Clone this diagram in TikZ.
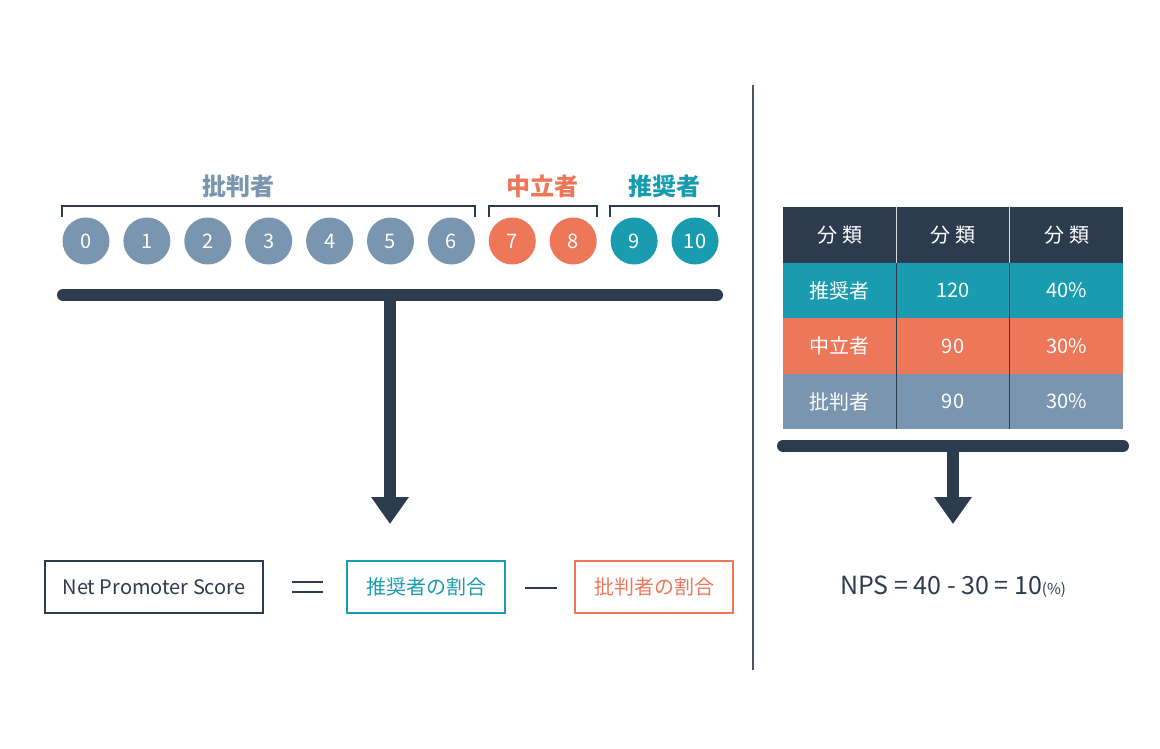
\documentclass[tikz,border=0pt]{standalone}
\usepackage{fontspec}
\setmainfont{Noto Sans CJK JP}
\usetikzlibrary{arrows.meta}
\definecolor{npsnavy}{HTML}{2D3B4E}
\definecolor{npsteal}{HTML}{1A9CB0}
\definecolor{npsorange}{HTML}{EE775A}
\definecolor{npsgray}{HTML}{7A95B0}
\definecolor{npsline}{HTML}{4A5566}
\tikzset{
  bracket/.style={npsnavy,line width=2pt},
  bar/.style={npsnavy,line width=12pt,line cap=round},
  stem/.style={npsnavy,line width=12pt,-{Triangle[width=36pt,length=27pt]}},
  cell/.style={minimum width=113.5pt,minimum height=55.5pt,inner sep=0pt,text=white,
    font=\fontsize{20}{20}\selectfont},
  termbox/.style={draw,line width=2pt,minimum height=52pt,inner sep=0pt,
    font=\fontsize{20}{20}\selectfont}
}
\begin{document}
\begin{tikzpicture}[x=1pt,y=-1pt]
  \useasboundingbox[fill=white] (0,0) rectangle (1160,749);
  % score circles
  \foreach \n/\c in {0/npsgray,1/npsgray,2/npsgray,3/npsgray,4/npsgray,5/npsgray,
      6/npsgray,7/npsorange,8/npsorange,9/npsteal,10/npsteal}
    \node[circle,fill=\c,minimum size=47pt,inner sep=0pt,text=white,
      font=\fontsize{20}{20}\selectfont] (c\n) at ({86+60.9*\n},241) {\n};
  % brackets and group labels
  \draw[bracket] (c0.west |- c0.north) -- ++(0,-11) -| (c6.east |- c6.north);
  \draw[bracket] (c7.west |- c7.north) -- ++(0,-11) -| (c8.east |- c8.north);
  \draw[bracket] (c9.west |- c9.north) -- ++(0,-11) -| (c10.east |- c10.north);
  \node[npsgray,font=\fontsize{24}{24}\selectfont\bfseries] (critics) at (238,186) {批判者};
  \node[npsorange,font=\fontsize{24}{24}\selectfont\bfseries] (passives) at (542.5,186) {中立者};
  \node[npsteal,font=\fontsize{24}{24}\selectfont\bfseries] (promoters) at (664.5,186) {推奨者};
  % left bar and arrow
  \coordinate (barLa) at (63,295);
  \coordinate (barLb) at (717,295);
  \coordinate (stemL) at (390,295);
  \coordinate (tipL) at (390,524);
  \draw[bar] (barLa) -- (barLb);
  \draw[stem] (stemL) -- (tipL);
  % formula
  \node[termbox,npsnavy,minimum width=218pt] (nps) at (154,587) {Net Promoter Score};
  \node[termbox,npsteal,minimum width=158pt] (share1) at (426,587) {推奨者の割合};
  \node[termbox,npsorange,minimum width=158pt] (share2) at (654,587) {批判者の割合};
  \draw[npsnavy,line width=2pt] (292,582) -- (323,582);
  \draw[npsnavy,line width=2pt] (292,592) -- (323,592);
  \draw[npsnavy,line width=2pt] (525,588) -- (557,588);
  % divider
  \draw[npsline,line width=2pt] (753,85) -- (753,670);
  % table
  \foreach \r/\c/\a/\b/\d in {0/npsnavy/分\hspace{5pt}類/分\hspace{5pt}類/分\hspace{5pt}類,
      1/npsteal/推奨者/120/40\%,2/npsorange/中立者/90/30\%,3/npsgray/批判者/90/30\%}{
    \node[cell,fill=\c] (t\r a) at (839.5,{235+55.5*\r}) {\a};
    \node[cell,fill=\c] (t\r b) at (953,{235+55.5*\r}) {\b};
    \node[cell,fill=\c] (t\r c) at (1066.5,{235+55.5*\r}) {\d};
  }
  \draw[white!80!npsnavy,line width=1pt] (t0a.north east) -- (t0a.south east);
  \draw[white!80!npsnavy,line width=1pt] (t0b.north east) -- (t0b.south east);
  \draw[npsnavy,line width=1pt] (t1a.north east) -- (t3a.south east);
  \draw[npsnavy,line width=1pt] (t1b.north east) -- (t3b.south east);
  % right bar and arrow
  \coordinate (barRa) at (783,446);
  \coordinate (barRb) at (1123,446);
  \coordinate (stemR) at (953,446);
  \coordinate (tipR) at (953,524);
  \draw[bar] (barRa) -- (barRb);
  \draw[stem] (stemR) -- (tipR);
  \node[npsnavy,font=\fontsize{25}{25}\selectfont] (result) at (953,587)
    {NPS = 40 - 30 = 10{\fontsize{15}{15}\selectfont(\%)}};
\end{tikzpicture}
\end{document}
